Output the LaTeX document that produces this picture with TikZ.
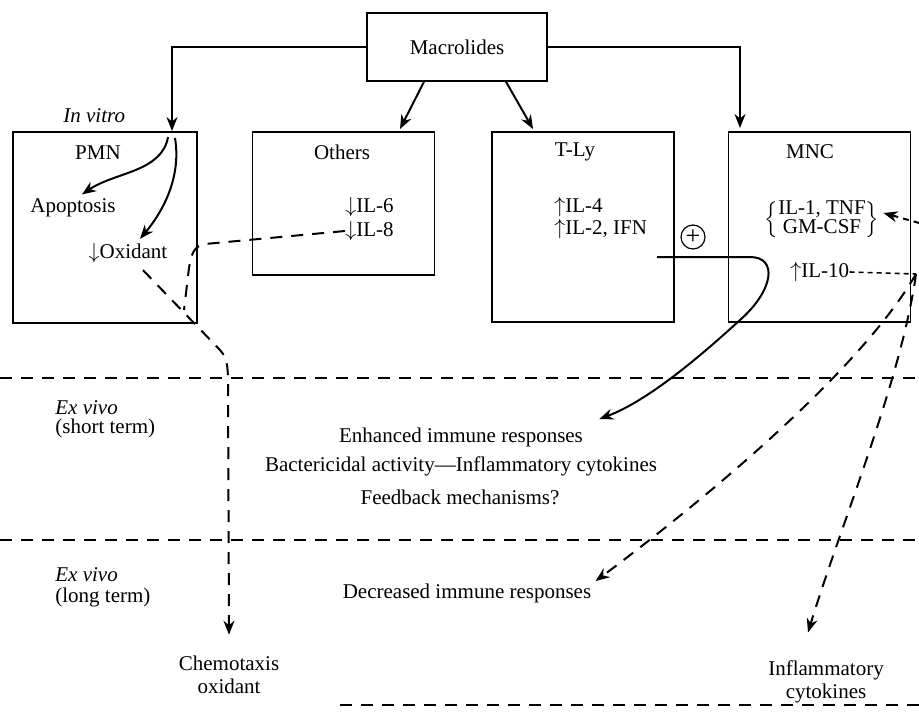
\documentclass[tikz,border=0pt]{standalone}
\usepackage{fontspec}
\setmainfont{Liberation Serif}
\usepackage{tikz}
\usetikzlibrary{arrows.meta, positioning}
\newcommand{\figsize}{\fontsize{10.5}{11.5}\selectfont}
\newcommand{\dn}{$\downarrow$}
\newcommand{\up}{$\uparrow$}
\tikzset{
  drugbox/.style={rectangle, draw, line width=0.75pt, minimum width=90pt,
    minimum height=34pt, inner sep=0pt, font=\figsize},
  cellbox/.style={rectangle, draw, line width=0.75pt, minimum width=91pt,
    inner sep=0pt},
  txt/.style={inner sep=0pt, align=center, font=\figsize},
  phase/.style={inner sep=0pt, anchor=west, font=\figsize\itshape},
  arrow/.style={-{Stealth[length=7pt, width=5.5pt]}, line width=1pt},
  dasharrow/.style={-{Stealth[length=7pt, width=5.5pt]}, line width=1pt,
    dash pattern=on 6pt off 4.5pt},
  dashline/.style={line width=1pt, dash pattern=on 6pt off 4.5pt},
  dotline/.style={line width=0.8pt, dash pattern=on 2.5pt off 2pt},
  zone/.style={line width=0.6pt, dash pattern=on 6pt off 4.5pt}
}

\begin{document}
\begin{tikzpicture}[x=0.5pt, y=-0.5pt]
  \useasboundingbox (0,0) rectangle (919,717);
  \clip (0,0) rectangle (919,717);

  % Drug and the four target cells
  \node[drugbox] (mac) at (457,47) {Macrolides};
  \node[cellbox, minimum height=95.5pt, minimum width=92pt, anchor=north west] (pmn) at (12,131) {};
  \node[cellbox, minimum height=71.5pt, right=27pt of pmn.north east, anchor=north west] (oth) {};
  \node[cellbox, minimum height=95pt, right=28pt of oth.north east, anchor=north west] (tly) {};
  \node[cellbox, minimum height=95pt, right=26.5pt of tly.north east, anchor=north west] (mnc) {};

  % Cell contents
  \node[txt] (pmnt) at (98,153) {PMN};
  \node[txt] (apo) at (73,208) {Apoptosis};
  \node[txt] (oxi) at (128,253) {\dn Oxidant};
  \node[txt] (otht) at (342,152) {Others};
  \node[txt, anchor=west] (il6) at (345,207) {\dn IL-6};
  \node[txt, anchor=west] (il8) at (345,231) {\dn IL-8};
  \node[txt] (tlyt) at (575,152) {T-Ly};
  \node[txt, anchor=west] (il4) at (554,207) {\up IL-4};
  \node[txt, anchor=west] (il2) at (554,229) {\up IL-2, IFN};
  \node[circle, draw, line width=0.6pt, minimum size=12pt, inner sep=0pt,
    font=\fontsize{13}{13}\selectfont] (plus) at (693,237) {+};
  \node[txt] (mnct) at (810,152) {MNC};
  \node[txt] (cyto) at (822,220) {\renewcommand{\arraystretch}{0.8}%
    $\left\{\begin{tabular}{@{}c@{}}IL-1, TNF\\GM-CSF\end{tabular}\right\}$};
  \node[txt, anchor=west] (il10) at (790,272) {\up IL-10};

  % Phases
  \node[phase] (vitro) at (63,116) {In vitro};
  \node[phase] (short) at (55,408) {Ex vivo};
  \node[txt, anchor=west] (shortt) at (55,428) {(short term)};
  \node[phase] (long) at (55,575) {Ex vivo};
  \node[txt, anchor=west] (longt) at (55,597) {(long term)};
  \draw[zone] (0,378) -- (919,378);
  \draw[zone] (0,540) -- (919,540);
  \draw[zone] (340,705) -- (919,705);

  % Outcomes
  \node[txt] (enh) at (461,437) {Enhanced immune responses};
  \node[txt] (bac) at (461,466) {Bactericidal activity—Inflammatory cytokines};
  \node[txt] (fbk) at (460,497) {Feedback mechanisms?};
  \node[txt] (dec) at (467,593) {Decreased immune responses};
  \node[txt] (chem) at (229,675) {Chemotaxis\\oxidant};
  \node[txt] (infl) at (826,682) {Inflammatory\\cytokines};

  % Solid arrows
  \coordinate (pmnin) at (172,131);
  \coordinate (mncin) at (740,128);
  \coordinate (othin) at (400,129);
  \coordinate (tlyin) at (533,129);
  \draw[arrow] (mac.west) -| (pmnin);
  \draw[arrow] (mac.east) -| (mncin);
  \draw[arrow] (mac.south) ++(-33,0) -- (othin);
  \draw[arrow] (mac.south) ++(49,0) -- (tlyin);
  \draw[arrow] (pmnin) ++(-4,6) .. controls (162,172) and (115,172) .. ([xshift=4.5pt, yshift=2pt]apo.north);
  \draw[arrow] (pmnin) ++(3,7) .. controls (182,180) and (160,215) .. ([xshift=6pt, yshift=2pt]oxi.north);
  \coordinate (tlyout) at (657,257);
  \draw[arrow] (tlyout) -- (750,257) .. controls (778,257) and (774,290) .. (740,320)
    .. controls (705,352) and (650,400) .. ([xshift=8pt, yshift=4pt]enh.north east);

  % Dashed arrows
  \draw[dashline] (il8.west) -- (205,244) .. controls (193,246) and (191,256) .. (189,268) -- (184,310);
  \draw[dasharrow] ([xshift=7.5pt, yshift=-3.5pt]oxi.south) -- (220,350)
    .. controls (227,358) and (228,365) .. (228,385) -- ([yshift=10.5pt]chem.north);
  \coordinate (jn) at (916,274);
  \coordinate (edge) at (930,226);
  \draw[dotline] (il10.east) -- (jn);
  \draw[dasharrow, dash pattern=on 3pt off 2.5pt] (edge) -- ([xshift=2pt, yshift=3.5pt]cyto.east);
  \draw[dasharrow] (jn) .. controls (857,376) and (691,510) .. ([xshift=2pt, yshift=1pt]dec.north east);
  \draw[dasharrow] (jn) .. controls (901,381) and (840,527) .. ([xshift=-9pt, yshift=14pt]infl.north);
\end{tikzpicture}
\end{document}
